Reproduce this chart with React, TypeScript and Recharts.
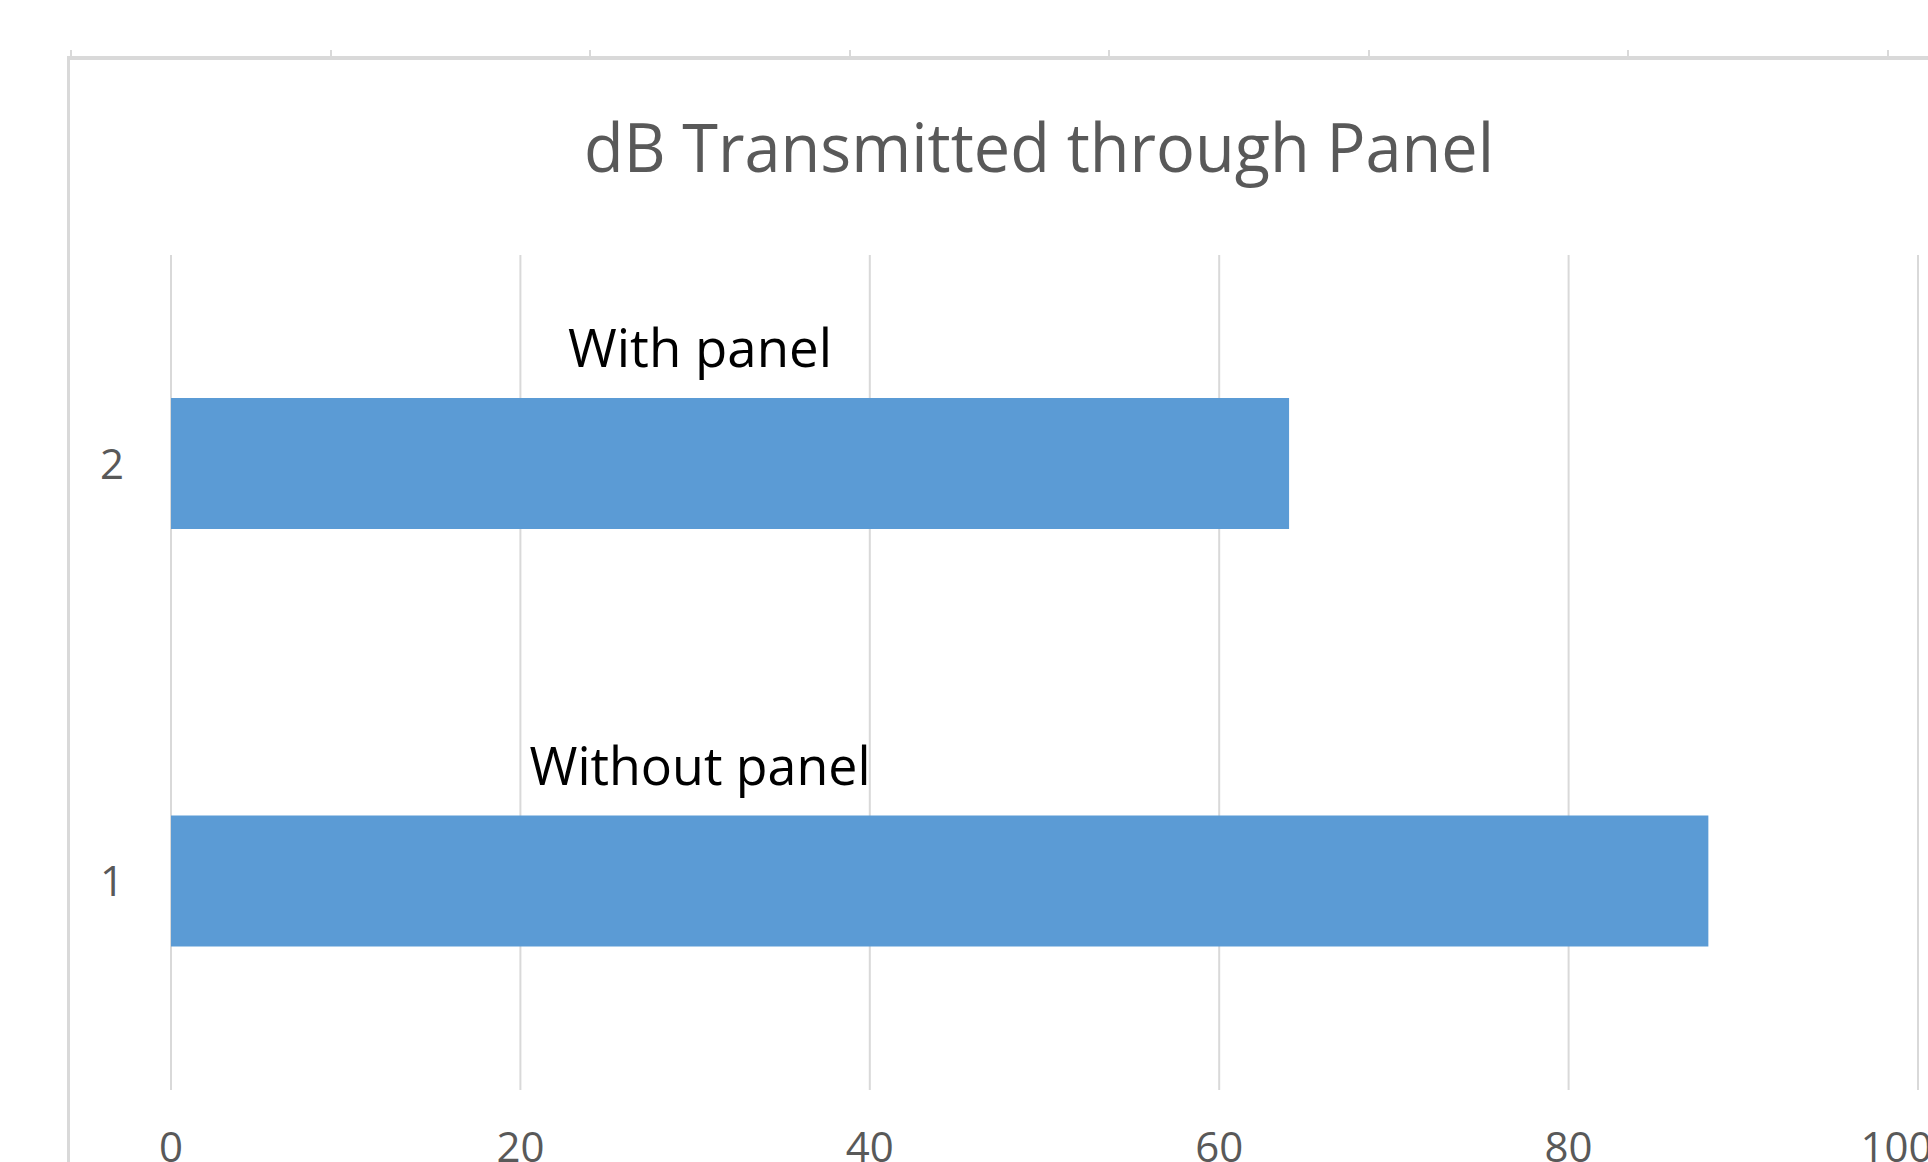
import React from 'react';
import { BarChart, Bar, XAxis, YAxis, CartesianGrid, LabelList } from 'recharts';

// categories bottom-to-top, as the spreadsheet lists them
const categories = ['1', '2'];
const dbValues = [88, 64];
const barLabels = ['Without panel', 'With panel'];
const xTicks = [0, 20, 40, 60, 80, 100];

const TITLE = 'dB Transmitted through Panel';
const GREY_TEXT = '#595959';
const GRID = '#d9d9d9';
const BAR_BLUE = '#5b9bd5';

const data = categories.map((category, i) => ({
  category,
  db: dbValues[i],
  label: barLabels[i],
}));

// label widths tuned to the narrow office font
const labelWidths: Record<string, number> = {
  'Without panel': 341,
  'With panel': 264,
};

const renderBarLabel = (props: any) => {
  const { x, y, value } = props;
  return (
    <text
      x={Number(x) + 529}
      y={Number(y) - 31}
      textAnchor="middle"
      fontSize={53}
      fill="#000"
      textLength={labelWidths[value]}
      lengthAdjust="spacingAndGlyphs"
    >
      {value}
    </text>
  );
};

export default function App() {
  return (
    <div
      style={{
        position: 'absolute',
        left: 0,
        top: 0,
        width: 1928,
        height: 1162,
        overflow: 'hidden',
        background: '#fff',
        fontFamily: '"Open Sans", sans-serif',
      }}
    >
      {/* sheet cell edges peeking above the chart frame */}
      {Array.from({ length: 8 }).map((_, i) => (
        <div
          key={i}
          style={{
            position: 'absolute',
            left: 70 + i * 259.5,
            top: 50,
            width: 2,
            height: 8,
            background: GRID,
          }}
        />
      ))}
      {/* chart frame, right and bottom edges fall outside the view */}
      <div
        style={{
          position: 'absolute',
          left: 67,
          top: 56,
          width: 2000,
          height: 1200,
          borderLeft: `3px solid ${GRID}`,
          borderTop: `4px solid ${GRID}`,
        }}
      />
      <svg
        width={1928}
        height={240}
        style={{ position: 'absolute', left: 0, top: 0 }}
      >
        <text
          x={1039}
          y={172}
          textAnchor="middle"
          fontSize={68}
          fill={GREY_TEXT}
          textLength={910}
          lengthAdjust="spacingAndGlyphs"
        >
          {TITLE}
        </text>
      </svg>
      <div style={{ position: 'absolute', left: 0, top: 0 }}>
        <BarChart
          layout="vertical"
          width={1928}
          height={1200}
          data={data}
          margin={{ top: 255, right: 10, bottom: 50, left: 0 }}
        >
          <CartesianGrid horizontal={false} stroke={GRID} strokeWidth={2} />
          <XAxis
            type="number"
            domain={[0, 100]}
            ticks={xTicks}
            axisLine={false}
            tickLine={false}
            tickSize={0}
            tickMargin={42}
            height={60}
            tick={{ fill: GREY_TEXT, fontSize: 42 }}
          />
          <YAxis
            type="category"
            dataKey="category"
            reversed
            width={171}
            axisLine={false}
            tickLine={false}
            tickSize={0}
            tickMargin={47}
            tick={{ fill: GREY_TEXT, fontSize: 42 }}
          />
          <Bar dataKey="db" fill={BAR_BLUE} barSize={131} isAnimationActive={false}>
            <LabelList dataKey="label" content={renderBarLabel} />
          </Bar>
        </BarChart>
      </div>
    </div>
  );
}
